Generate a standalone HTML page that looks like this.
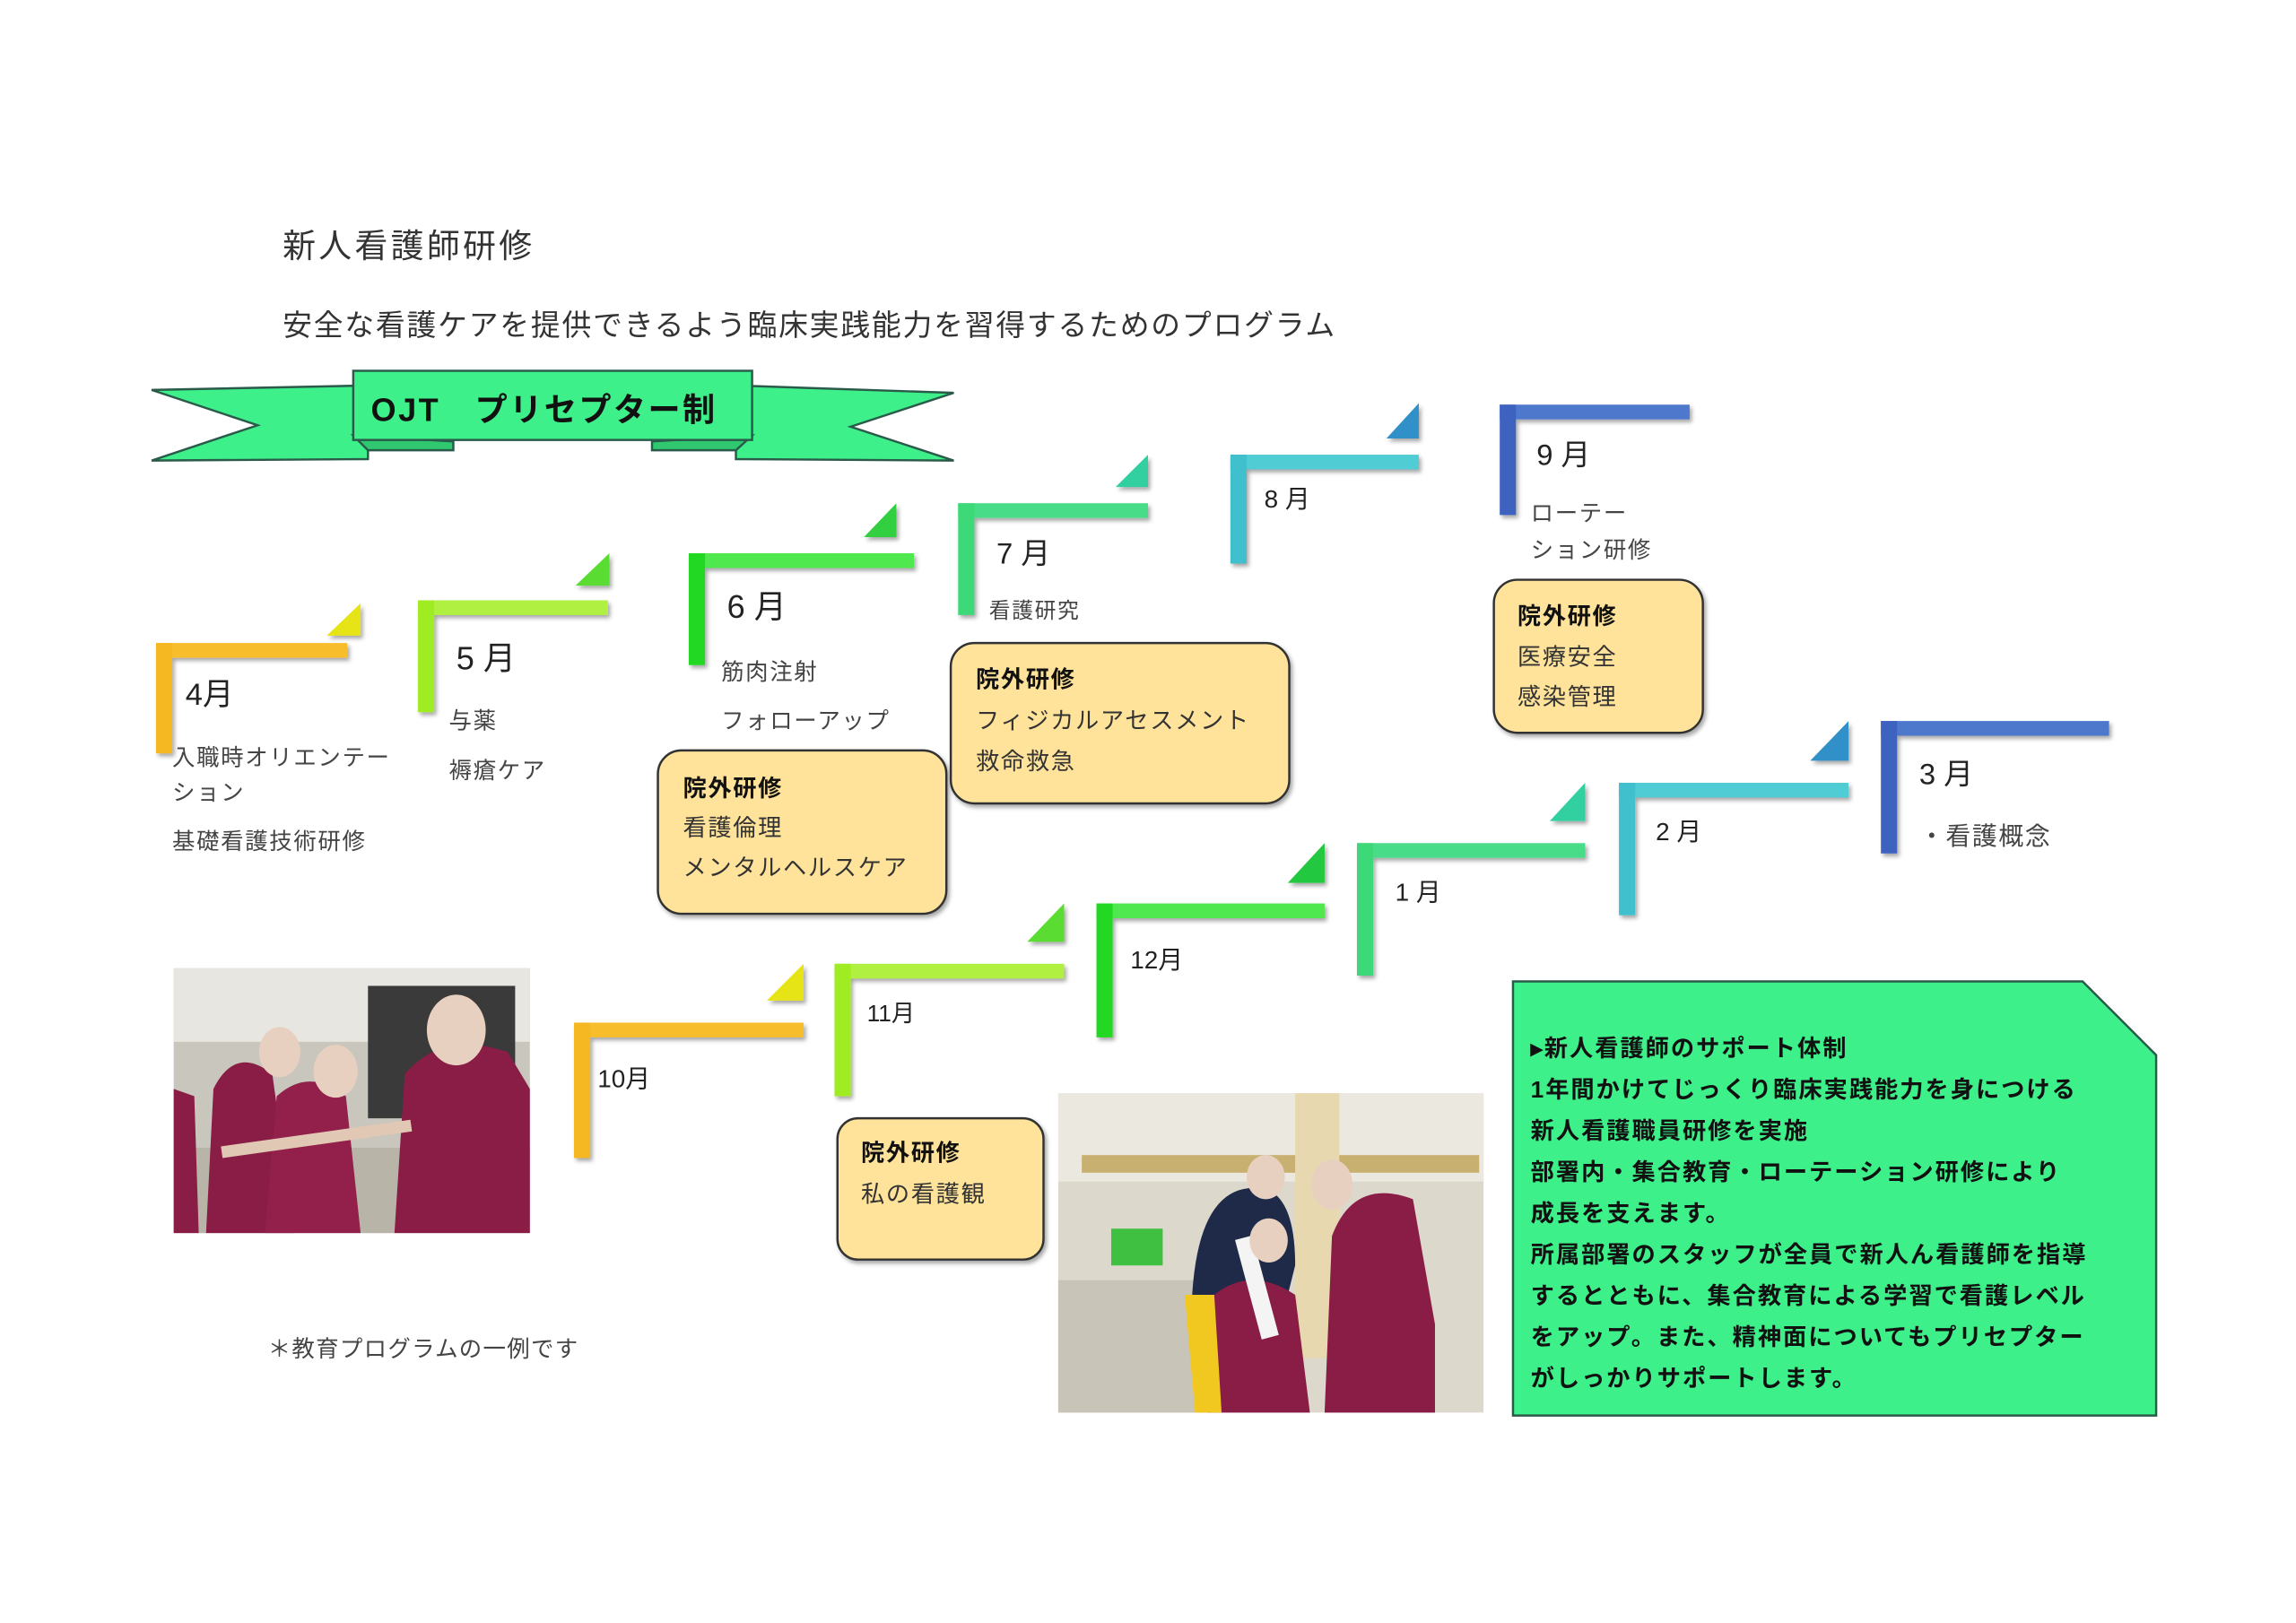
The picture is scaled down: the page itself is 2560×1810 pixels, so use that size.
<!DOCTYPE html>
<html><head><meta charset="utf-8"><style>
html,body{margin:0;padding:0;background:#fff;}
svg{display:block;}
text{font-family:"Liberation Sans","Noto Sans CJK JP",sans-serif;}
</style></head><body>
<svg width="2560" height="1810" viewBox="0 0 1560 1103" xmlns="http://www.w3.org/2000/svg">
<defs>
<filter id="sh" x="-10%" y="-10%" width="130%" height="130%"><feDropShadow dx="1.5" dy="2" stdDeviation="1.5" flood-color="#000" flood-opacity="0.35"/></filter>
</defs>
<rect width="1560" height="1103" fill="#fff"/>
<text x="192" y="175" font-size="22.5" fill="#333" letter-spacing="2">新人看護師研修</text>
<text x="192" y="228" font-size="20" fill="#333" letter-spacing="1.1">安全な看護ケアを提供できるよう臨床実践能力を習得するためのプログラム</text>

<!-- banner -->
<g stroke="#2a5a4a" stroke-width="1.5" fill="#3EF08A">
<polygon points="103,265 250,262 250,312 103,313 175,289"/>
<polygon points="648,267 500,262 500,312 648,313 578,290"/>
<polygon points="240,296 308,300 308,306 250,306" fill="#2fc870"/>
<polygon points="511,296 443,300 443,306 500,306" fill="#2fc870"/>
<rect x="240" y="252" width="271" height="47" />
</g>
<text x="252" y="286" font-size="22" font-weight="bold" fill="#111" letter-spacing="1.5">OJT　プリセプター制</text>

<!-- steps -->
<g filter="url(#sh)">
<rect x="106" y="437" width="130" height="10" fill="#F7BD2A"/><rect x="106" y="437" width="11" height="75" fill="#F5B820"/>
<polygon points="222,432 245,410 245,432" fill="#E6E414"/>
<rect x="284" y="408" width="129" height="10" fill="#B0F040"/><rect x="284" y="408" width="11" height="76" fill="#A0EC20"/>
<polygon points="391,398 414,376 414,398" fill="#5ADC30"/>
<rect x="468" y="376" width="153" height="10" fill="#50E850"/><rect x="468" y="376" width="11" height="76" fill="#20D820"/>
<polygon points="587,365 609,342 609,365" fill="#30D040"/>
<rect x="651" y="342" width="129" height="10" fill="#48DC88"/><rect x="651" y="342" width="11" height="76" fill="#3CD878"/>
<polygon points="758,331 780,309 780,331" fill="#30D0A0"/>
<rect x="836" y="309" width="128" height="10" fill="#50CCD4"/><rect x="836" y="309" width="11" height="74" fill="#40C0CC"/>
<polygon points="942,298 964,274 964,298" fill="#3090C8"/>
<rect x="1019" y="275" width="129" height="10" fill="#4E78CC"/><rect x="1019" y="275" width="11" height="75" fill="#3E62C0"/>
<rect x="390" y="695" width="156" height="10" fill="#F7BD2A"/><rect x="390" y="695" width="11" height="92" fill="#F5B820"/>
<polygon points="521,680 546,655 546,680" fill="#E6E414"/>
<rect x="567" y="655" width="156" height="10" fill="#B0F040"/><rect x="567" y="655" width="11" height="90" fill="#A0EC20"/>
<polygon points="698,640 723,614 723,640" fill="#5ADC30"/>
<rect x="745" y="614" width="155" height="10" fill="#50E850"/><rect x="745" y="614" width="11" height="91" fill="#20D820"/>
<polygon points="875,600 900,573 900,600" fill="#20C840"/>
<rect x="922" y="573" width="155" height="10" fill="#48DC88"/><rect x="922" y="573" width="11" height="90" fill="#3CD878"/>
<polygon points="1053,558 1077,532 1077,558" fill="#30D0A0"/>
<rect x="1100" y="532" width="156" height="10" fill="#50CCD4"/><rect x="1100" y="532" width="11" height="90" fill="#40C0CC"/>
<polygon points="1230,517 1256,490 1256,517" fill="#3090C8"/>
<rect x="1278" y="490" width="155" height="10" fill="#4E78CC"/><rect x="1278" y="490" width="11" height="90" fill="#3E62C0"/>
</g>

<g fill="#222">
<text x="126" y="479" font-size="21">4月</text>
<text x="310" y="455" font-size="22">5 月</text>
<text x="494" y="420" font-size="22">6 月</text>
<text x="677" y="383" font-size="20">7 月</text>
<text x="859" y="345" font-size="17">8 月</text>
<text x="1044" y="316" font-size="20">9 月</text>
<text x="406" y="739" font-size="17">10月</text>
<text x="589" y="694" font-size="16">11月</text>
<text x="768" y="658" font-size="17">12月</text>
<text x="948" y="612" font-size="17">1 月</text>
<text x="1125" y="571" font-size="17">2 月</text>
<text x="1304" y="533" font-size="20">3 月</text>
</g>
<g fill="#444" font-size="15.5" letter-spacing="1">
<text x="117" y="520">入職時オリエンテー</text>
<text x="117" y="544">ション</text>
<text x="117" y="577">基礎看護技術研修</text>
<text x="305" y="495">与薬</text>
<text x="305" y="529">褥瘡ケア</text>
<text x="490" y="462">筋肉注射</text>
<text x="490" y="495">フォローアップ</text>
<text x="672" y="420" font-size="14.5">看護研究</text>
<text x="1040" y="354">ローテー</text>
<text x="1040" y="379">ション研修</text>
<text x="1304" y="574" font-size="17">・看護概念</text>
</g>

<!-- boxes -->
<g fill="#FFE39A" stroke="#333" stroke-width="1.5" filter="url(#sh)">
<rect x="447" y="510" width="196" height="111" rx="16"/>
<rect x="646" y="437" width="230" height="109" rx="16"/>
<rect x="1015" y="394" width="142" height="104" rx="16"/>
<rect x="569" y="760" width="140" height="96" rx="14"/>
</g>
<g fill="#333" font-size="16" letter-spacing="1">
<text x="464" y="541" font-weight="bold" fill="#111">院外研修</text>
<text x="464" y="568">看護倫理</text>
<text x="464" y="595">メンタルヘルスケア</text>
<text x="663" y="467" font-weight="bold" fill="#111">院外研修</text>
<text x="663" y="495">フィジカルアセスメント</text>
<text x="663" y="523">救命救急</text>
<text x="1031" y="424" font-weight="bold" fill="#111">院外研修</text>
<text x="1031" y="452">医療安全</text>
<text x="1031" y="479">感染管理</text>
<text x="585" y="789" font-weight="bold" fill="#111">院外研修</text>
<text x="585" y="817">私の看護観</text>
</g>

<!-- photo 1 -->
<g>
<rect x="118" y="658" width="242" height="180" fill="#c9c6bd"/>
<rect x="118" y="658" width="242" height="50" fill="#e8e6e0"/>
<rect x="250" y="670" width="100" height="90" fill="#3a3a3a"/>
<rect x="118" y="780" width="242" height="58" fill="#b8b4a8"/>
<path d="M140,838 L145,740 Q160,710 185,730 L200,838 Z" fill="#8a1d45"/>
<path d="M180,838 L188,745 Q210,725 235,745 L245,838 Z" fill="#92204a"/>
<path d="M268,838 L275,730 Q300,700 345,715 L360,740 L360,838 Z" fill="#8a1d45"/>
<path d="M118,740 L132,745 L135,838 L118,838Z" fill="#8a1d45"/>
<ellipse cx="190" cy="715" rx="14" ry="17" fill="#e8d0c0"/>
<ellipse cx="228" cy="728" rx="15" ry="18" fill="#e8d0c0"/>
<ellipse cx="310" cy="700" rx="20" ry="24" fill="#e8d0c0"/>
<rect x="150" y="770" width="130" height="8" fill="#e0c8b4" transform="rotate(-8 215 774)"/>
</g>
<!-- photo 2 -->
<g>
<rect x="719" y="743" width="289" height="217" fill="#dcd8cc"/>
<rect x="719" y="743" width="289" height="60" fill="#ebe8e0"/>
<rect x="735" y="785" width="270" height="12" fill="#c8b070"/>
<rect x="719" y="870" width="100" height="90" fill="#c8c4b8"/>
<rect x="755" y="835" width="35" height="25" fill="#40c040"/>
<rect x="880" y="743" width="30" height="180" fill="#e8d8b0"/>
<path d="M810,880 Q815,800 860,808 Q880,815 880,860 L875,880Z" fill="#1e2a48"/>
<path d="M820,960 L825,880 Q850,860 880,880 L890,960Z" fill="#8a1d45"/>
<path d="M900,960 L905,840 Q920,800 960,815 L975,900 L975,960Z" fill="#8a1d45"/>
<path d="M805,880 L825,880 L830,960 L812,960Z" fill="#f0c820"/>
<rect x="848" y="840" width="12" height="70" fill="#f4f4f4" transform="rotate(-15 854 875)"/>
<ellipse cx="860" cy="800" rx="13" ry="15" fill="#e8d0c0"/>
<ellipse cx="905" cy="805" rx="14" ry="17" fill="#e8d0c0"/>
<ellipse cx="862" cy="843" rx="13" ry="15" fill="#e8d0c0"/>
</g>

<text x="182" y="922" font-size="15.5" fill="#444" letter-spacing="0.8">＊教育プログラムの一例です</text>

<!-- green box -->
<polygon points="1028,667 1415,667 1465,717 1465,962 1028,962" fill="#3EF08A" stroke="#2a5a4a" stroke-width="1.5"/>
<g font-size="16" font-weight="bold" fill="#111" letter-spacing="1.2">
<text x="1040" y="718">▸新人看護師のサポート体制</text>
<text x="1040" y="746">1年間かけてじっくり臨床実践能力を身につける</text>
<text x="1040" y="774">新人看護職員研修を実施</text>
<text x="1040" y="802">部署内・集合教育・ローテーション研修により</text>
<text x="1040" y="830">成長を支えます。</text>
<text x="1040" y="858">所属部署のスタッフが全員で新人ん看護師を指導</text>
<text x="1040" y="886">するとともに、集合教育による学習で看護レベル</text>
<text x="1040" y="914">をアップ。また、精神面についてもプリセプター</text>
<text x="1040" y="942">がしっかりサポートします。</text>
</g>
</svg>
</body></html>
